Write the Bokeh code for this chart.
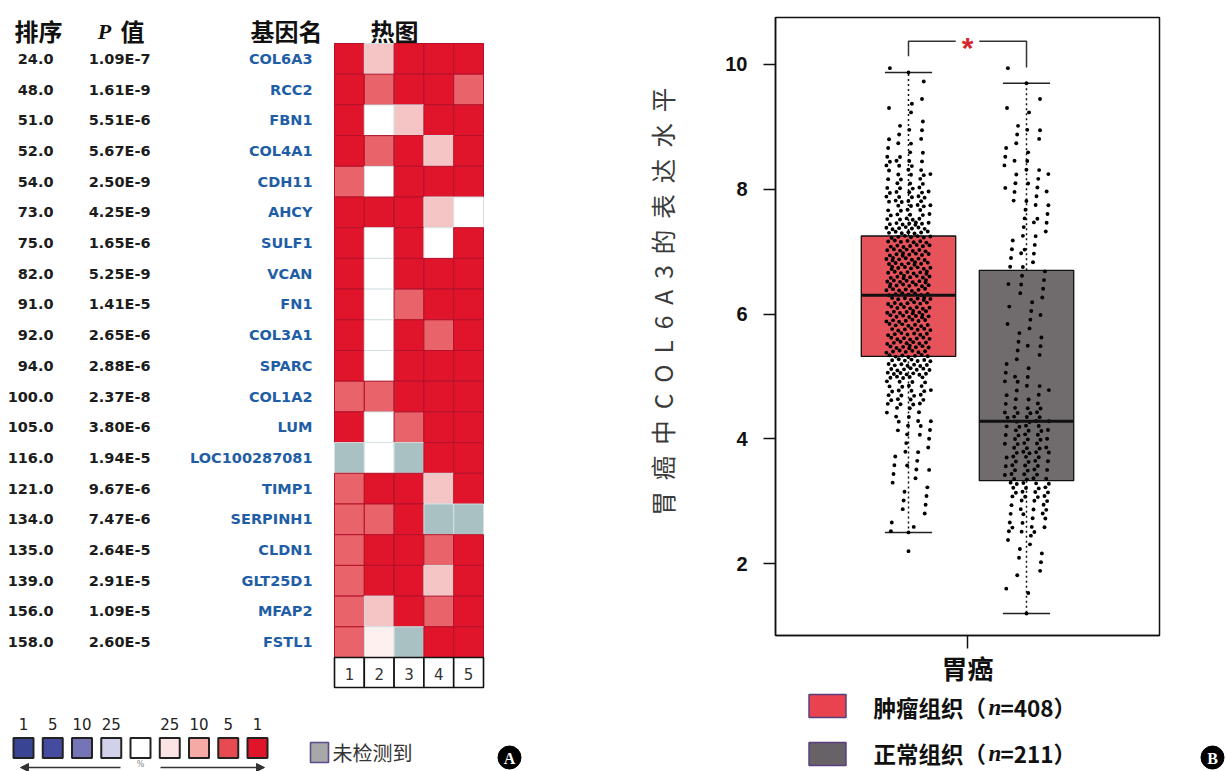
import numpy as np
from bokeh.plotting import figure
from bokeh.layouts import row, column
from bokeh.models import Range1d, FixedTicker, ColumnDataSource, Arrow, NormalHead
from bokeh.core.properties import value
from bokeh.embed import file_html
from bokeh.resources import INLINE

# ---------------- Panel A data ----------------
RANKS = ["24.0", "48.0", "51.0", "52.0", "54.0", "73.0", "75.0", "82.0", "91.0", "92.0",
         "94.0", "100.0", "105.0", "116.0", "121.0", "134.0", "135.0", "139.0", "156.0", "158.0"]
P_VALUES = ["1.09E-7", "1.61E-9", "5.51E-6", "5.67E-6", "2.50E-9", "4.25E-9", "1.65E-6", "5.25E-9",
            "1.41E-5", "2.65E-6", "2.88E-6", "2.37E-8", "3.80E-6", "1.94E-5", "9.67E-6", "7.47E-6",
            "2.64E-5", "2.91E-5", "1.09E-5", "2.60E-5"]
GENES = ["COL6A3", "RCC2", "FBN1", "COL4A1", "CDH11", "AHCY", "SULF1", "VCAN", "FN1", "COL3A1",
         "SPARC", "COL1A2", "LUM", "LOC100287081", "TIMP1", "SERPINH1", "CLDN1", "GLT25D1", "MFAP2", "FSTL1"]
DATASETS = ["1", "2", "3", "4", "5"]
# heat class per gene and dataset: "1","5","10","25" = top-% class, "0" = not significant, "N" = not detected
HEAT = [
    ["1", "10", "1", "1", "1"],
    ["1", "5", "1", "1", "5"],
    ["1", "0", "10", "1", "1"],
    ["1", "5", "1", "10", "1"],
    ["5", "0", "1", "1", "1"],
    ["1", "1", "1", "10", "0"],
    ["1", "0", "1", "0", "1"],
    ["1", "0", "1", "1", "1"],
    ["1", "0", "5", "1", "1"],
    ["1", "0", "1", "5", "1"],
    ["1", "0", "1", "1", "1"],
    ["5", "5", "1", "1", "1"],
    ["1", "0", "5", "1", "1"],
    ["N", "0", "N", "1", "1"],
    ["5", "1", "1", "10", "1"],
    ["5", "5", "1", "N", "N"],
    ["5", "1", "1", "5", "1"],
    ["5", "1", "1", "10", "1"],
    ["5", "10", "1", "5", "1"],
    ["5", "25", "N", "1", "1"],
]
HEAT_COLORS = {"1": "#e0142b", "5": "#e8636a", "10": "#f5c4c4", "25": "#fdf0ef", "0": "#ffffff", "N": "#a9c1c3"}
KEY_LABELS = ["1", "5", "10", "25", "", "25", "10", "5", "1"]
KEY_COLORS = ["#394493", "#454b9f", "#7574b6", "#d2d1ea", "#ffffff", "#fde4e4", "#f5aaa6", "#e54b50", "#e0152a"]
NOT_DETECTED = "未检测到"

# ---------------- Panel B data ----------------
CATEGORY = "胃癌"
GROUPS = ["肿瘤组织", "正常组织"]
N_SAMPLES = [408, 211]
Q1 = [5.32, 3.33]
MEDIAN = [6.30, 4.28]
Q3 = [7.25, 6.70]
WHISK_LO = [2.50, 1.20]
WHISK_HI = [9.87, 9.70]
BIN_EDGES = [1.0, 1.5, 2.0, 2.5, 3.0, 3.5, 4.0, 4.5, 5.0, 5.5, 6.0, 6.5, 7.0, 7.5, 8.0, 8.5, 9.0, 9.5, 10.0]
TUMOR_COUNTS = [0, 0, 0, 6, 7, 10, 16, 30, 50, 50, 52, 56, 50, 34, 24, 12, 6, 2]
TUMOR_EXTRA = [2.20, 2.50, 9.87]
NORMAL_COUNTS = [0, 4, 7, 18, 30, 30, 28, 14, 8, 7, 8, 9, 10, 11, 12, 8, 4, 1]
NORMAL_EXTRA = [1.20, 9.70]
Y_LABEL = "胃癌中COL6A3的表达水平"

CJK = "Noto Sans CJK SC"
SANS = "DejaVu Sans"


def blank(width, height, xr, yr):
    p = figure(width=width, height=height, x_range=Range1d(*xr), y_range=Range1d(*yr),
               x_axis_type=None, y_axis_type=None, output_backend="svg",
               toolbar_location=None, min_border=0, outline_line_color=None)
    p.background_fill_color = "white"
    return p


# ================= Panel A =================
pA = blank(640, 771, (0, 640), (771, 0))
ROW_TOP, ROW_H = 43.0, 30.7
HM_LEFT, CELL_W = 334.0, 29.8
row_y = [ROW_TOP + (i + 0.5) * ROW_H for i in range(len(GENES))]

hdr = dict(text_font=value(CJK), text_font_style="bold", text_font_size="24px",
           text_align="center", text_baseline="middle", text_color="#111111")
pA.text(x=[38, 286, 394], y=[30, 30, 30], text=["排序", "基因名", "热图"], **hdr)
pA.text(x=[132], y=[30], text=["值"], **hdr)
pA.text(x=[104], y=[31], text=["P"], text_font=value("Liberation Serif"), text_font_style="bold italic",
        text_font_size="22px", text_align="center", text_baseline="middle", text_color="#111111")

src = ColumnDataSource(dict(y=row_y, rank=RANKS, p=P_VALUES, gene=GENES))
body = dict(text_font=value(SANS), text_font_style="bold", text_font_size="14.5px",
            text_align="right", text_baseline="middle")
pA.text(x=53, y="y", text="rank", source=src, text_color="#1c1c1c", **body)
pA.text(x=150, y="y", text="p", source=src, text_color="#1c1c1c", **body)
pA.text(x=312, y="y", text="gene", source=src, text_color="#1f5ea6", **body)

cx, cy, cc, cl = [], [], [], []
for i, g in enumerate(GENES):
    for j, d in enumerate(DATASETS):
        lvl = HEAT[i][j]
        cx.append(HM_LEFT + (j + 0.5) * CELL_W)
        cy.append(row_y[i])
        cc.append(HEAT_COLORS[lvl])
        cl.append("#b3122a" if lvl in ("1", "5") else "#d5e0e2")
pA.rect(x=cx, y=cy, width=CELL_W, height=ROW_H, fill_color=cc, line_color=cl, line_width=1)

num_y = ROW_TOP + len(GENES) * ROW_H + 15
nx = [HM_LEFT + (j + 0.5) * CELL_W for j in range(len(DATASETS))]
pA.rect(x=nx, y=num_y, width=CELL_W, height=30, fill_color="white", line_color="#111111", line_width=1.6)
pA.text(x=nx, y=num_y + 1, text=DATASETS, text_font=value(SANS), text_font_size="15px",
        text_align="center", text_baseline="middle", text_color="#333333")

# colour key
key_x = [23 + k * 29.25 for k in range(len(KEY_COLORS))]
pA.rect(x=key_x, y=747.5, width=20, height=20, fill_color=KEY_COLORS, line_color="#222222", line_width=2)
pA.text(x=key_x, y=723, text=KEY_LABELS, text_font=value(SANS), text_font_size="15px",
        text_align="center", text_baseline="middle", text_color="#222222")
pA.add_layout(Arrow(end=NormalHead(size=8, fill_color="#333333", line_color="#333333"),
                    x_start=120, y_start=767, x_end=20, y_end=767, line_width=1.5, line_color="#333333"))
pA.add_layout(Arrow(end=NormalHead(size=8, fill_color="#333333", line_color="#333333"),
                    x_start=160, y_start=767, x_end=264, y_end=767, line_width=1.5, line_color="#333333"))
pA.text(x=[140], y=[764], text=["%"], text_font=value(SANS), text_font_size="8px",
        text_align="center", text_baseline="middle", text_color="#888888")
pA.rect(x=[319], y=[752], width=18, height=20, fill_color="#a8a8a8", line_color="#5b4a8c", line_width=1.6)
pA.text(x=[332], y=[752], text=[NOT_DETECTED], text_font=value(CJK), text_font_size="20px",
        text_align="left", text_baseline="middle", text_color="#333333")
pA.scatter(x=[509], y=[757], size=23, marker="circle", fill_color="black", line_color="black")
pA.text(x=[509], y=[758], text=["A"], text_font=value("Liberation Serif"), text_font_style="bold",
        text_font_size="16px", text_align="center", text_baseline="middle", text_color="white")

# ================= Panel B =================
FRAME_L, FRAME_R = 775, 1159
B_RIGHT = 1169          # right edge of the box-plot canvas; a narrow strip follows
pB = figure(width=B_RIGHT - 640, height=690, x_range=Range1d(-1.627, 1.627), y_range=Range1d(0.848, 10.752),
            output_backend="svg", toolbar_location=None,
            min_border_left=FRAME_L - 640, min_border_right=B_RIGHT - FRAME_R, min_border_top=17,
            min_border_bottom=55)
pB.grid.visible = False
pB.background_fill_color = "white"
pB.outline_line_color = "#111111"
pB.outline_line_width = 1.5

GX = [-0.5, 0.5]
BOX_W = 0.8
CAP_HW = 0.2
JIT = 0.19
BOX_COLORS = ["#e6535b", "#706c6e"]

pB.vbar(x=GX, width=BOX_W, bottom=Q1, top=Q3, fill_color=BOX_COLORS, line_color="#111111", line_width=1.3)
pB.segment(x0=GX, y0=Q3, x1=GX, y1=WHISK_HI, line_color="#111111", line_width=1.5, line_dash="2 3")
pB.segment(x0=GX, y0=Q1, x1=GX, y1=WHISK_LO, line_color="#111111", line_width=1.5, line_dash="2 3")
for lim in (WHISK_HI, WHISK_LO):
    pB.segment(x0=[g - CAP_HW for g in GX], y0=lim, x1=[g + CAP_HW for g in GX], y1=lim,
               line_color="#222222", line_width=1.5)


def spread(counts, extra, center):
    xs, ys = [], []
    for b, (lo, hi, c) in enumerate(zip(BIN_EDGES[:-1], BIN_EDGES[1:], counts)):
        for m in range(c):
            n = m + 1 + 7 * b
            xs.append(center + (((0.5 + n * 0.7548777) % 1.0) - 0.5) * 2 * JIT)
            ys.append(lo + ((0.5 + n * 0.5698403) % 1.0) * (hi - lo))
    xs += [center] * len(extra)
    ys += list(extra)
    return xs, ys


tx, ty = spread(TUMOR_COUNTS, TUMOR_EXTRA, GX[0])
nxp, nyp = spread(NORMAL_COUNTS, NORMAL_EXTRA, GX[1])
pB.scatter(x=tx + nxp, y=ty + nyp, size=3.9, marker="circle", fill_color="black", line_color=None)

pB.segment(x0=[g - BOX_W / 2 for g in GX], y0=MEDIAN, x1=[g + BOX_W / 2 for g in GX], y1=MEDIAN,
           line_color="#111111", line_width=3)

# significance bracket
BR_TOP = 10.37
pB.line(x=[GX[0], GX[0], -0.1], y=[10.13, BR_TOP, BR_TOP], line_color="#333333", line_width=1.5)
pB.line(x=[0.1, GX[1], GX[1]], y=[BR_TOP, BR_TOP, 9.95], line_color="#333333", line_width=1.5)
pB.text(x=[0], y=[BR_TOP], text=["*"], text_font=value("Liberation Sans"), text_font_style="bold",
        text_font_size="30px", text_align="center", text_baseline="middle", text_color="#d8262c",
        y_offset=6)

pB.yaxis.ticker = FixedTicker(ticks=[2, 4, 6, 8, 10], minor_ticks=[])
pB.yaxis.major_label_text_font = "Liberation Sans"
pB.yaxis.major_label_text_font_style = "bold"
pB.yaxis.major_label_text_font_size = "20px"
pB.yaxis.major_label_text_color = "#111111"
pB.yaxis.major_tick_out = 12
pB.yaxis.major_tick_in = 0
pB.yaxis.major_label_standoff = 16
# leading non-breaking spaces lift the rotated label a little above the frame's centre, as in the original
pB.yaxis.axis_label = "\u00a0" * 9 + "\u00a0\u00a0".join(list(Y_LABEL))
pB.yaxis.axis_label_text_font = CJK
pB.yaxis.axis_label_text_font_style = "normal"
pB.yaxis.axis_label_text_font_size = "24.5px"
pB.yaxis.axis_label_text_color = "#3a3a3a"
pB.yaxis.axis_label_standoff = 42

pB.xaxis.ticker = FixedTicker(ticks=[0], minor_ticks=[])
pB.xaxis.major_label_overrides = {0: CATEGORY}
pB.xaxis.major_label_text_font = CJK
pB.xaxis.major_label_text_font_style = "bold"
pB.xaxis.major_label_text_font_size = "26px"
pB.xaxis.major_label_text_color = "#111111"
pB.xaxis.major_tick_out = 13
pB.xaxis.major_tick_in = 0
pB.xaxis.major_label_standoff = 0

for ax in (pB.xaxis, pB.yaxis):
    ax.axis_line_color = "#111111"
    ax.axis_line_width = 1.5
    ax.major_tick_line_color = "#111111"
    ax.major_tick_line_width = 1.5

# ================= Panel B legend (frame aligned with pB's frame) =================
pL = blank(B_RIGHT - 640, 81, (FRAME_L, FRAME_R), (771, 690))
pL.min_border_left = FRAME_L - 640
pL.min_border_right = B_RIGHT - FRAME_R
LEG_Y = [705.5, 753.5]
pL.rect(x=827, y=LEG_Y, width=37, height=23, fill_color=["#e8434e", "#666266"],
        line_color="#5a3f80", line_width=1.5)
leg = dict(text_font=value(CJK), text_font_style="bold", text_font_size="22.5px",
           text_align="left", text_baseline="middle", text_color="#111111")
TY = [706.5, 752.5]
pL.text(x=873, y=TY, text=[g + "（" for g in GROUPS], **leg)
pL.text(x=988, y=TY, text=["n", "n"], text_font=value("Liberation Serif"), text_font_style="bold italic",
        text_font_size="23px", text_align="left", text_baseline="middle", text_color="#111111")
pL.text(x=1000, y=TY, text=["=%d）" % n for n in N_SAMPLES], **leg)

# ================= right strip with panel tag =================
pR = blank(1226 - B_RIGHT, 771, (B_RIGHT, 1226), (771, 0))
pR.scatter(x=[1212], y=[757], size=23, marker="circle", fill_color="black", line_color="black")
pR.text(x=[1212], y=[758], text=["B"], text_font=value("Liberation Serif"), text_font_style="bold",
        text_font_size="16px", text_align="center", text_baseline="middle", text_color="white")

layout = row(pA, column(pB, pL), pR)
open("out.html", "w").write(file_html(layout, INLINE))
